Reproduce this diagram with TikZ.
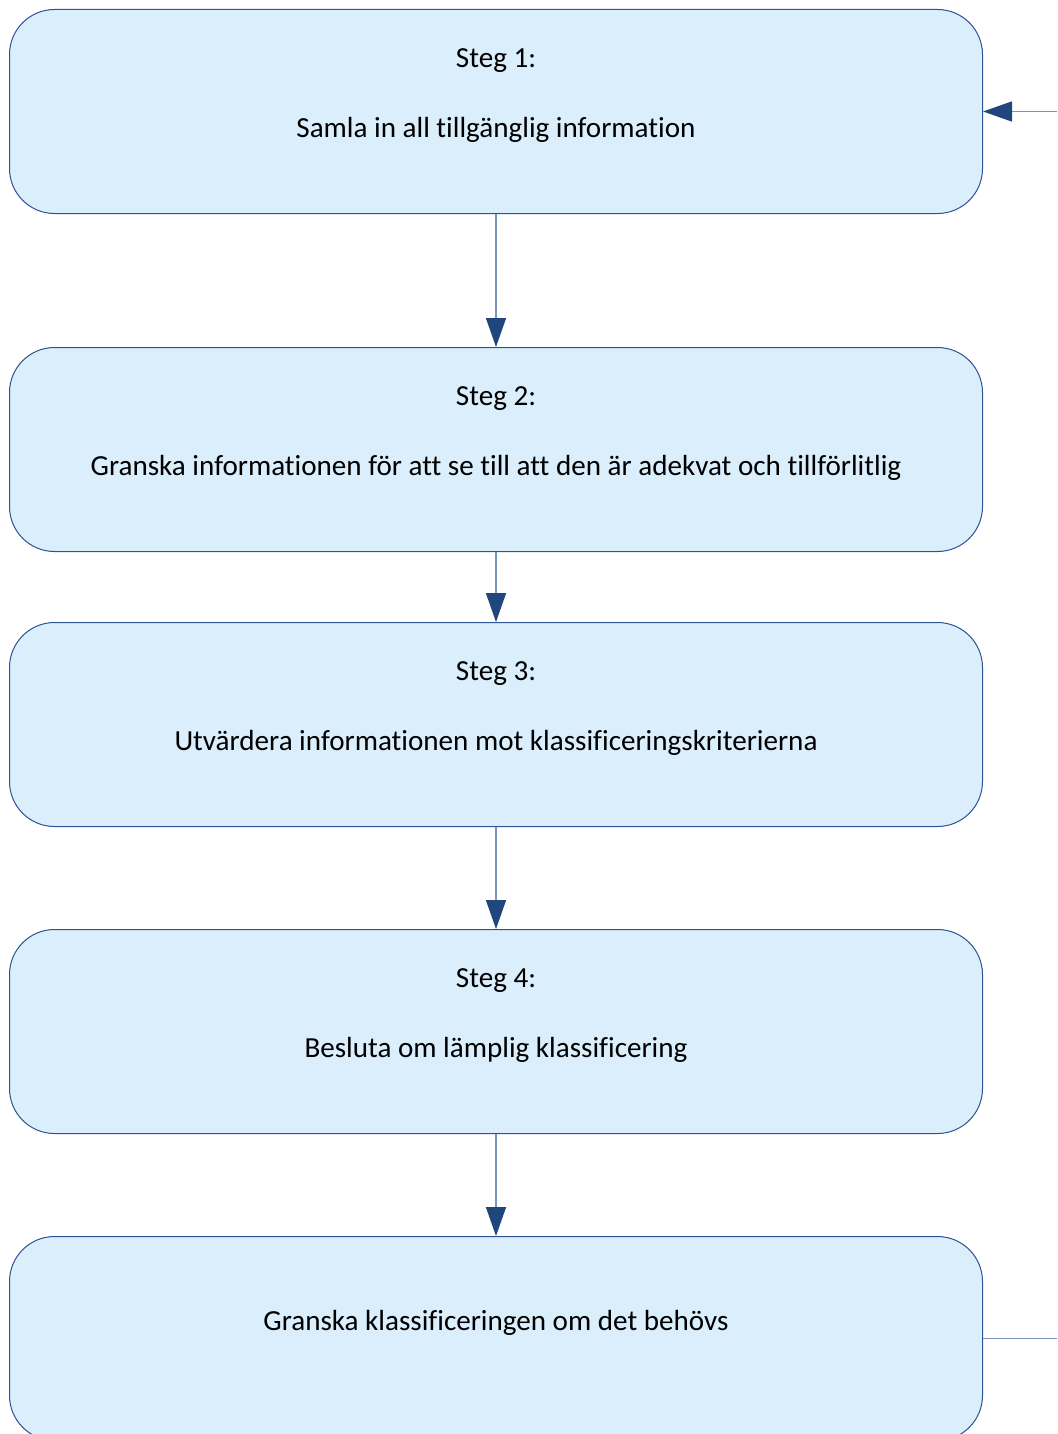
\documentclass[tikz,border=0pt]{standalone}
\usepackage{fontspec}
\setmainfont{Carlito}[Ligatures={NoCommon}]
\usetikzlibrary{arrows.meta}
\definecolor{boxfill}{HTML}{DAEEFC}
\definecolor{boxline}{HTML}{2F5291}
\definecolor{arrline}{HTML}{7A95BC}
\definecolor{arrhead}{HTML}{1F477D}
\begin{document}
\begin{tikzpicture}[x=1pt,y=-1pt,
  stepbox/.style={draw=boxline,fill=boxfill,line width=1pt,rounded corners=45pt,
    minimum width=973pt,minimum height=204pt,inner sep=0pt,anchor=north west},
  lbl/.style={font=\fontsize{29.1}{34}\selectfont,text=black,anchor=center},
  conn/.style={draw=arrline,line width=1.5pt,-{Triangle[length=29pt,width=20pt,fill=arrhead,color=arrhead]}}]
\useasboundingbox (0,0) rectangle (1057,1434);
\clip (0,0) rectangle (1057,1434);
\node[stepbox] (b1) at (9,9) {};
\node[stepbox] (b2) at (9,347) {};
\node[stepbox] (b3) at (9,622) {};
\node[stepbox] (b4) at (9,929) {};
\node[stepbox] (b5) at (9,1236) {};
\node[lbl] (t1a) at ([yshift=51pt]b1.center) {Steg 1:};
\node[lbl] (t1b) at ([yshift=-18pt]b1.center) {Samla in all tillgänglig information};
\node[lbl] (t2a) at ([yshift=51pt]b2.center) {Steg 2:};
\node[lbl] (t2b) at ([yshift=-18pt]b2.center) {Granska informationen för att se till att den är adekvat och tillförlitlig};
\node[lbl] (t3a) at ([yshift=51pt]b3.center) {Steg 3:};
\node[lbl] (t3b) at ([yshift=-18pt]b3.center) {Utvärdera informationen mot klassificeringskriterierna};
\node[lbl] (t4a) at ([yshift=51pt]b4.center) {Steg 4:};
\node[lbl] (t4b) at ([yshift=-18pt]b4.center) {Besluta om lämplig klassificering};
\node[lbl] (t5) at ([yshift=16pt]b5.center) {Granska klassificeringen om det behövs};
\draw[conn] (b1.south) -- (b2.north);
\draw[conn] (b2.south) -- (b3.north);
\draw[conn] (b3.south) -- (b4.north);
\draw[conn] (b4.south) -- (b5.north);
\coordinate (fb) at (1080,0);
\draw[conn] (b5.east) -- (b5.east -| fb) -- (b1.east -| fb) -- (b1.east);
\end{tikzpicture}
\end{document}
